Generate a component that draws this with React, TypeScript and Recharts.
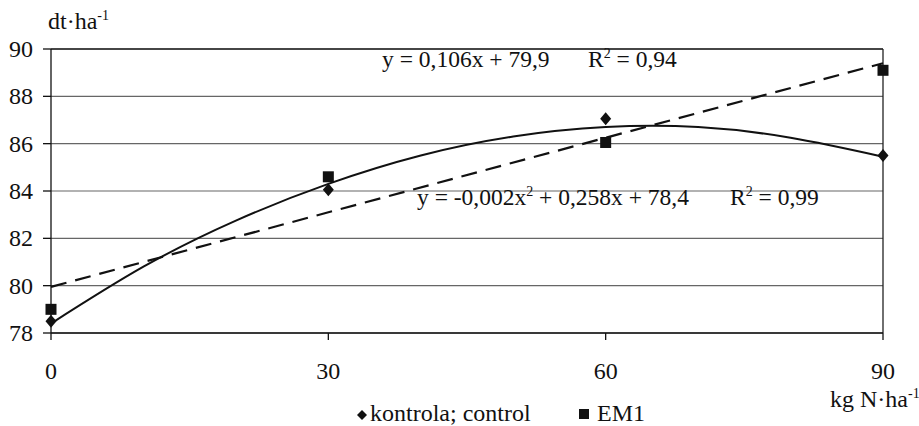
import { ComposedChart, Line, Scatter, XAxis, YAxis, CartesianGrid, ReferenceLine } from 'recharts'

const doses = [0, 30, 60, 90]
const kontrola = [78.5, 84.05, 87.05, 85.5]
const em1 = [79.0, 84.6, 86.05, 89.1]

// trend lines
const polyX = [0, 10, 20, 30, 40, 50, 60, 70, 80, 90]
const polyY = [78.4, 80.8, 82.75, 84.3, 85.5, 86.3, 86.7, 86.7, 86.25, 85.45]
const linX = [0, 90]
const linY = [79.95, 89.4]

const yTicks = [78, 80, 82, 84, 86, 88, 90]
const xTicks = [0, 30, 60, 90]

const font = 'Liberation Serif'
const txt = { fontFamily: font, fontSize: 24 }
const eq = { fontFamily: font, fontSize: 23.5 }
const sup = { fontFamily: font, fontSize: 14 }

const kontrolaData = doses.map((x, i) => ({ x, y: kontrola[i] }))
const em1Data = doses.map((x, i) => ({ x, y: em1[i] }))
const polyData = polyX.map((x, i) => ({ x, y: polyY[i] }))
const linData = linX.map((x, i) => ({ x, y: linY[i] }))

const Diamond = (p: any) => (
  <path d={`M${p.cx},${p.cy - 6.5} L${p.cx + 5.5},${p.cy} L${p.cx},${p.cy + 6.5} L${p.cx - 5.5},${p.cy} Z`} fill="#111" />
)
const Square = (p: any) => <rect x={p.cx - 5.5} y={p.cy - 5.5} width={11} height={11} fill="#111" />

const XTick = (p: any) => (
  <text x={p.x} y={p.y + 15} textAnchor="middle" fill="#111" style={txt}>
    {p.payload.value}
  </text>
)
const YTick = (p: any) => (
  <text x={p.x} y={p.y + 8} textAnchor="end" fill="#111" style={txt}>
    {p.payload.value}
  </text>
)

export default function App() {
  return (
    <div style={{ position: 'absolute', left: 0, top: 0, width: 919, height: 426, background: '#fff' }}>
      <ComposedChart width={919} height={426} margin={{ top: 49, right: 36, left: 0, bottom: 53 }}>
        <CartesianGrid vertical={false} stroke="#666" strokeWidth={1.2} />
        <XAxis
          dataKey="x"
          type="number"
          domain={[0, 90]}
          ticks={xTicks}
          height={40}
          tickSize={7}
          tickMargin={24}
          stroke="#111"
          strokeWidth={1.3}
          tick={XTick}
        />
        <YAxis
          type="number"
          domain={[78, 90]}
          ticks={yTicks}
          width={51}
          tickSize={8}
          tickMargin={10}
          stroke="#111"
          strokeWidth={1.3}
          tick={YTick}
        />
        <ReferenceLine x={90} stroke="#222" strokeWidth={1.3} />
        <ReferenceLine y={90} stroke="#222" strokeWidth={1.3} />
        <Line data={polyData} dataKey="y" type="natural" stroke="#111" strokeWidth={2} dot={false} isAnimationActive={false} />
        <Line data={linData} dataKey="y" type="linear" stroke="#111" strokeWidth={2.2} strokeDasharray="16 9" dot={false} isAnimationActive={false} />
        <Scatter data={kontrolaData} dataKey="y" shape={Diamond} isAnimationActive={false} />
        <Scatter data={em1Data} dataKey="y" shape={Square} isAnimationActive={false} />
      </ComposedChart>
      <svg width={919} height={426} style={{ position: 'absolute', left: 0, top: 0, pointerEvents: 'none' }}>
        <g fill="#111">
          <text x={48} y={29} style={txt}>
            dt·ha<tspan style={sup} dy={-9}>-1</tspan>
          </text>
          <text x={382} y={67} style={eq}>y = 0,106x + 79,9</text>
          <text x={588} y={67} style={eq}>
            R<tspan style={sup} dy={-9}>2</tspan>
            <tspan dy={9}> = 0,94</tspan>
          </text>
          <text x={417} y={205} style={eq}>
            y = -0,002x<tspan style={sup} dy={-9}>2</tspan>
            <tspan dy={9}> + 0,258x + 78,4</tspan>
          </text>
          <text x={730} y={205} style={eq}>
            R<tspan style={sup} dy={-9}>2</tspan>
            <tspan dy={9}> = 0,99</tspan>
          </text>
          <text x={830} y={407} style={txt}>
            kg N·ha<tspan style={sup} dy={-9}>-1</tspan>
          </text>
          <path d="M362,410 L367,415 L362,420 L357,415 Z" fill="#111" />
          <text x={370} y={421} style={txt}>kontrola; control</text>
          <rect x={579} y={409} width={10} height={10} fill="#111" />
          <text x={597} y={421} style={txt}>EM1</text>
        </g>
      </svg>
    </div>
  )
}
